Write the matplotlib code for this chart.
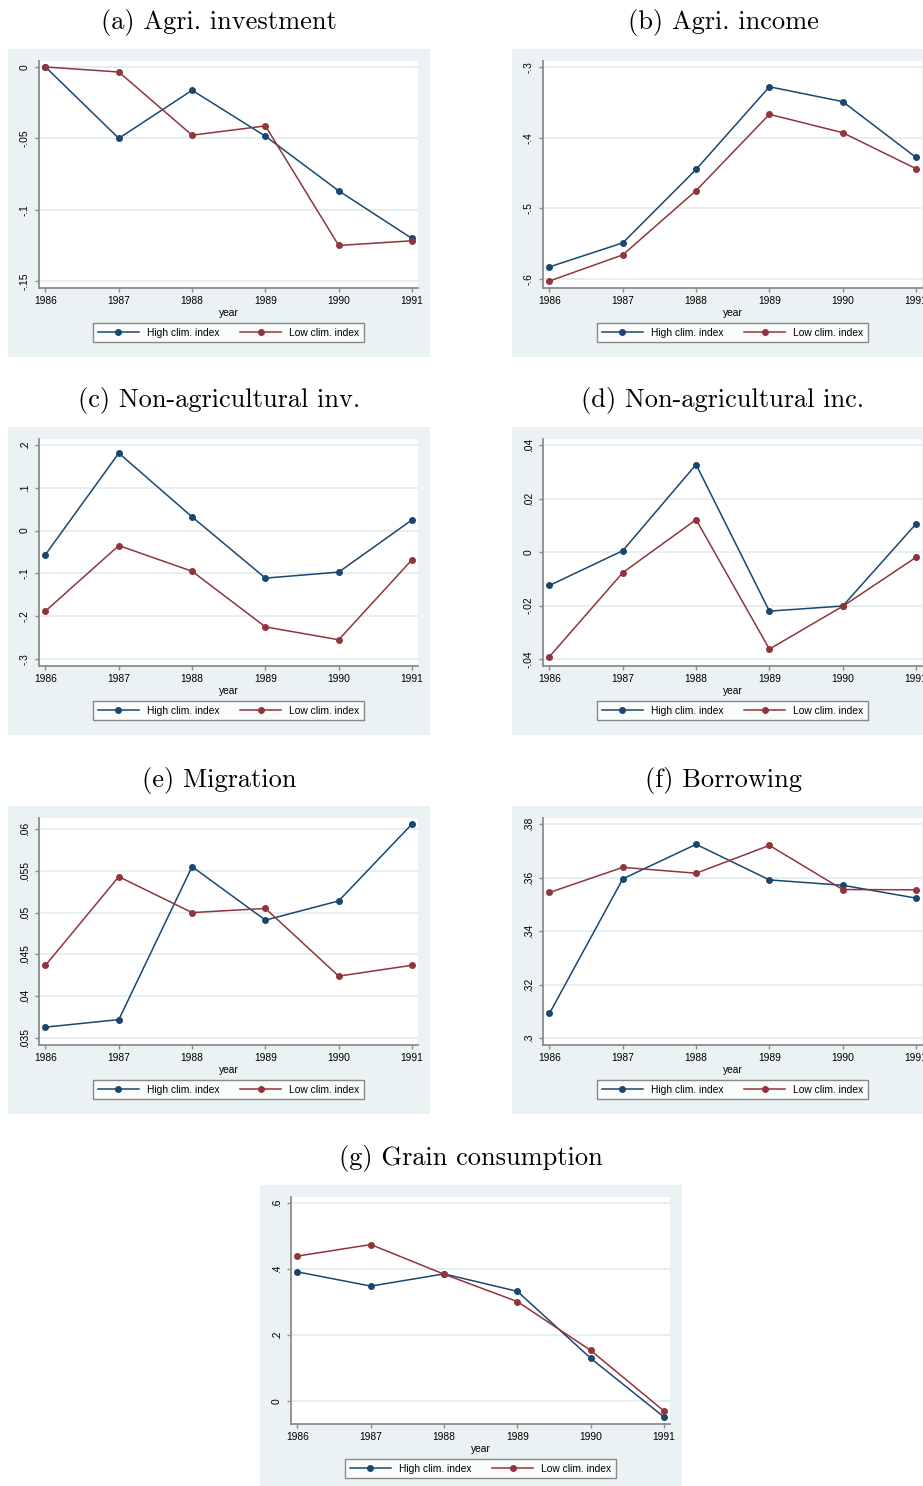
import matplotlib.pyplot as plt
from matplotlib.patches import Rectangle
from matplotlib.ticker import FixedLocator, FuncFormatter

plt.rcParams['font.family'] = ['Liberation Sans', 'DejaVu Sans']

years = [1986, 1987, 1988, 1989, 1990, 1991]

# group means by year, high vs low climate index
agri_inv_high = [0.0, -0.0500, -0.0163, -0.0485, -0.0868, -0.1202]
agri_inv_low = [0.0, -0.0035, -0.0478, -0.0413, -0.1251, -0.1218]
agri_inv_ticks = [-0.15, -0.1, -0.05, 0]

agri_inc_high = [-0.583, -0.549, -0.445, -0.328, -0.349, -0.428]
agri_inc_low = [-0.603, -0.566, -0.475, -0.367, -0.393, -0.444]
agri_inc_ticks = [-0.6, -0.5, -0.4, -0.3]

nonag_inv_high = [-0.056, 0.181, 0.032, -0.111, -0.097, 0.025]
nonag_inv_low = [-0.188, -0.035, -0.095, -0.225, -0.255, -0.068]
nonag_inv_ticks = [-0.3, -0.2, -0.1, 0, 0.1, 0.2]

nonag_inc_high = [-0.0125, 0.0005, 0.0327, -0.0221, -0.0202, 0.0105]
nonag_inc_low = [-0.0391, -0.0077, 0.0121, -0.0363, -0.0203, -0.0020]
nonag_inc_ticks = [-0.04, -0.02, 0, 0.02, 0.04]

migr_high = [0.0363, 0.0372, 0.0555, 0.0491, 0.0514, 0.0606]
migr_low = [0.0437, 0.0543, 0.0500, 0.0505, 0.0424, 0.0437]
migr_ticks = [0.035, 0.04, 0.045, 0.05, 0.055, 0.06]

borrow_high = [0.3092, 0.3595, 0.3724, 0.3591, 0.3571, 0.3523]
borrow_low = [0.3544, 0.3638, 0.3616, 0.3720, 0.3555, 0.3554]
borrow_ticks = [0.3, 0.32, 0.34, 0.36, 0.38]

grain_high = [0.391, 0.348, 0.385, 0.332, 0.129, -0.049]
grain_low = [0.439, 0.474, 0.384, 0.301, 0.153, -0.031]
grain_ticks = [0, 0.2, 0.4, 0.6]

W, H = 923, 1486
BG = '#EAF2F3'
GRID = '#E4EDEF'
AXC = '#8C8C8C'
NAVY = '#1A476F'
MAROON = '#90353B'


def fx(px):
    return px / W


def fy(py):
    return 1 - py / H


def stata_fmt(v, pos=None):
    s = f'{v:g}'
    if s.startswith('0.'):
        s = s[1:]
    elif s.startswith('-0.'):
        s = '-' + s[2:]
    return s


panels = [
    ('(a) Agri. investment', agri_inv_high, agri_inv_low, agri_inv_ticks, 8, 49),
    ('(b) Agri. income', agri_inc_high, agri_inc_low, agri_inc_ticks, 512, 49),
    ('(c) Non-agricultural inv.', nonag_inv_high, nonag_inv_low, nonag_inv_ticks, 8, 427),
    ('(d) Non-agricultural inc.', nonag_inc_high, nonag_inc_low, nonag_inc_ticks, 512, 427),
    ('(e) Migration', migr_high, migr_low, migr_ticks, 8, 806),
    ('(f) Borrowing', borrow_high, borrow_low, borrow_ticks, 512, 806),
    ('(g) Grain consumption', grain_high, grain_low, grain_ticks, 260, 1185),
]

fig = plt.figure(figsize=(W / 100, H / 100), dpi=100)

for title, high, low, ticks, bx, by in panels:
    fig.add_artist(Rectangle((fx(bx), fy(by + 308)), 422 / W, 308 / H,
                             transform=fig.transFigure, facecolor=BG,
                             edgecolor='none', zorder=-1))
    fig.text(fx(bx + 211), fy(by - 26), title, ha='center', va='center',
             family='cmr10', size=19)

    ax = fig.add_axes([fx(bx + 31), fy(by + 239), 379 / W, 227 / H])
    ax.set_facecolor('white')
    ax.plot(years, high, color=NAVY, lw=1.1, marker='o', ms=4,
            label='High clim. index')
    ax.plot(years, low, color=MAROON, lw=1.1, marker='o', ms=4,
            label='Low clim. index')

    lo = min(ticks[0], min(high), min(low))
    hi = max(ticks[-1], max(high), max(low))
    step = (hi - lo) / 214
    ax.set_ylim(lo - 7 * step, hi + 6 * step)
    ax.set_xlim(1986 - 6.5 / 73.33, 1991 + 6 / 73.33)

    ax.xaxis.set_major_locator(FixedLocator(years))
    ax.yaxis.set_major_locator(FixedLocator(ticks))
    ax.yaxis.set_major_formatter(FuncFormatter(stata_fmt))
    ax.tick_params(axis='both', direction='out', length=3, width=1,
                   color=AXC, labelsize=7.4)
    ax.tick_params(axis='y', pad=3.5)
    ax.tick_params(axis='x', pad=3)
    for lab in ax.get_yticklabels():
        lab.set_rotation(90)
        lab.set_va('center')

    ax.yaxis.grid(True, color=GRID, lw=1.3)
    ax.set_axisbelow(True)
    for side in ('top', 'right'):
        ax.spines[side].set_visible(False)
    for side in ('left', 'bottom'):
        ax.spines[side].set_color(AXC)
        ax.spines[side].set_linewidth(1.3)

    ax.set_xlabel('year', fontsize=7.4, labelpad=1)

    leg = ax.legend(loc='upper center', bbox_to_anchor=(0.5, -35 / 227),
                    ncol=2, frameon=True, fancybox=False, edgecolor='#6E6E6E',
                    borderaxespad=0, handlelength=4, handletextpad=0.8,
                    columnspacing=2.0, fontsize=7.4, borderpad=0.45)
    leg.get_frame().set_linewidth(1.0)

fig.savefig('out.png', dpi=100, facecolor='white')
